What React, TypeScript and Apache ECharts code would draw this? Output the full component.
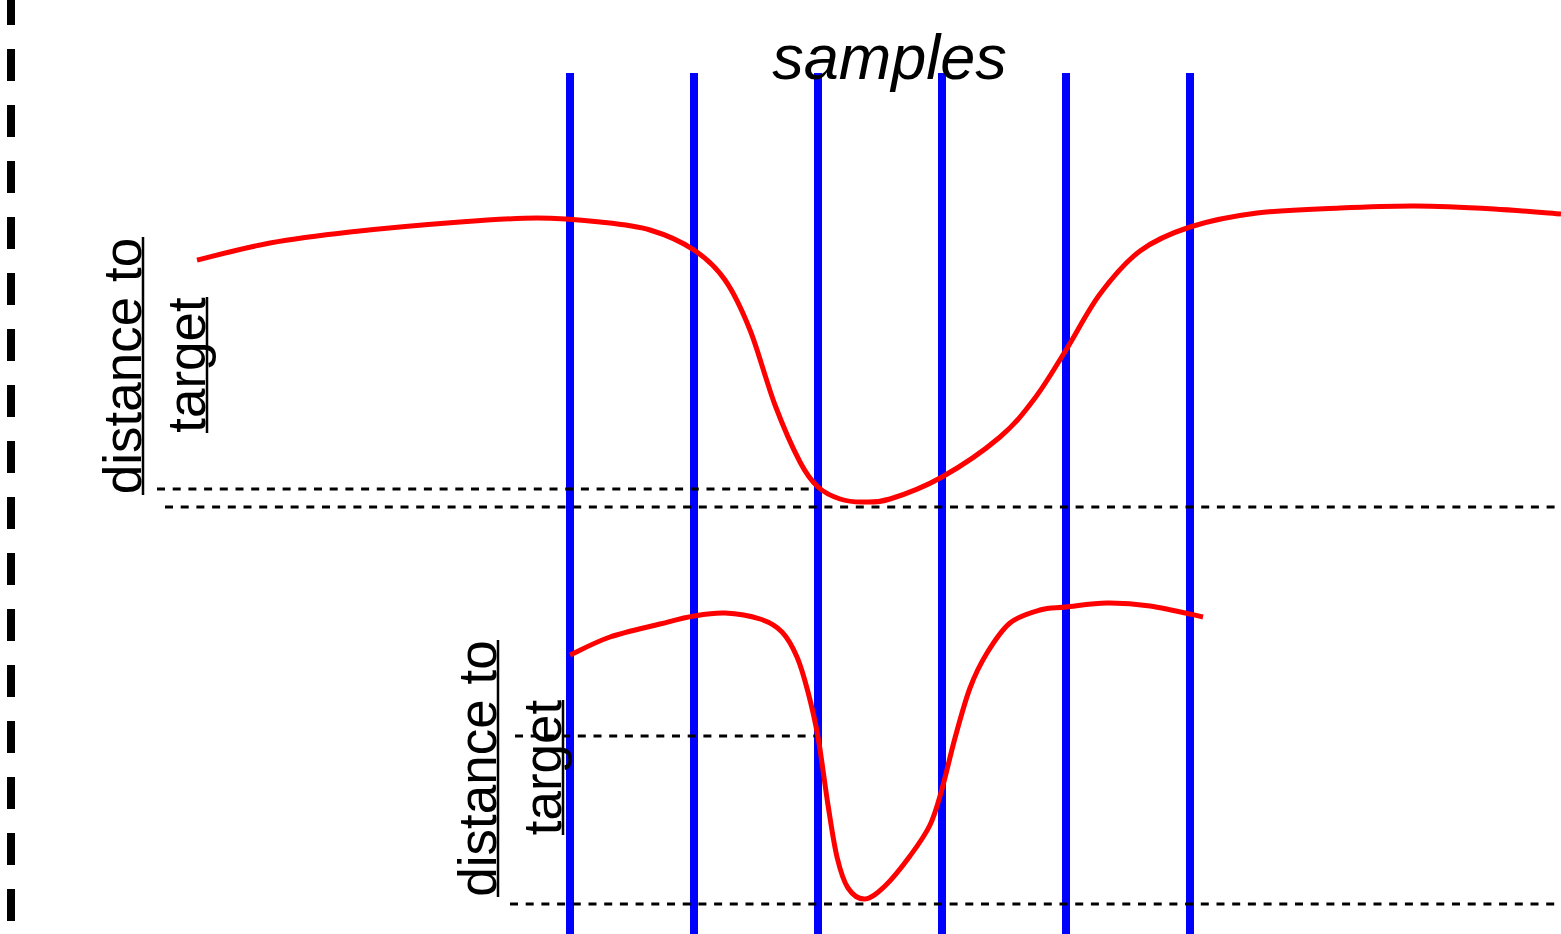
import React, { useEffect, useRef } from "react";
import * as echarts from "echarts";

// ---- data (diagram coordinates: x to the right, y downward) ----
const sampleX = [570, 694, 818, 942, 1066, 1190];
const sampleTop = 73;
const sampleBottom = 934;

const upperCurve: [number, number][] = [
  [197, 260], [270, 243], [350, 232], [460, 222], [537, 218], [600, 222], [650, 230],
  [694, 250], [725, 280], [750, 330], [775, 405], [800, 462], [818, 487], [840, 499],
  [862, 502], [890, 499], [942, 477], [1000, 437], [1035, 398], [1066, 350], [1100, 294],
  [1140, 251], [1190, 227], [1257, 213], [1340, 208], [1415, 206], [1494, 209], [1561, 214],
];

const lowerCurve: [number, number][] = [
  [570, 655], [610, 637], [660, 624], [694, 616], [725, 613], [760, 619], [782, 632],
  [797, 657], [808, 692], [818, 737], [828, 805], [837, 857], [848, 888], [865, 899],
  [885, 886], [910, 856], [930, 825], [942, 789], [955, 738], [970, 688], [987, 653],
  [1010, 623], [1040, 610], [1066, 607], [1107, 603], [1150, 606], [1203, 617],
];

const refY = [489, 507, 736, 904];
const refStart = [157, 165, 515, 510];
const refEnd = [818, 1555, 818, 1561];

const borderX = 11;

const labelLines = ["distance to", "target"];
const titleText = "samples";

const W = 1561;
const H = 934;
const FONT = "'Liberation Sans', Arial, Helvetica, sans-serif";

// Catmull-Rom spline through screen points -> SVG path data
function splinePath(pts: number[][]): string {
  if (pts.length < 2) return "";
  let d = `M${pts[0][0]},${pts[0][1]}`;
  for (let i = 0; i < pts.length - 1; i++) {
    const p0 = pts[i - 1] || pts[i];
    const p1 = pts[i];
    const p2 = pts[i + 1];
    const p3 = pts[i + 2] || p2;
    const c1x = p1[0] + (p2[0] - p0[0]) / 6;
    const c1y = p1[1] + (p2[1] - p0[1]) / 6;
    const c2x = p2[0] - (p3[0] - p1[0]) / 6;
    const c2y = p2[1] - (p3[1] - p1[1]) / 6;
    d += ` C${c1x},${c1y} ${c2x},${c2y} ${p2[0]},${p2[1]}`;
  }
  return d;
}

export default function App() {
  const ref = useRef<HTMLDivElement>(null);

  useEffect(() => {
    if (!ref.current) return;
    const chart = echarts.init(ref.current, undefined, { renderer: "svg" });

    const series: any[] = [];

    // left thick dashed border
    series.push({
      type: "line",
      data: [[borderX, 0], [borderX, H]],
      symbol: "none",
      silent: true,
      lineStyle: { color: "#000", width: 8, type: [32, 24], dashOffset: 7 },
      z: 1,
    });

    // blue sample lines
    sampleX.forEach((x) => {
      series.push({
        type: "line",
        data: [[x, sampleTop], [x, sampleBottom]],
        symbol: "none",
        silent: true,
        lineStyle: { color: "#0000ff", width: 8, cap: "butt" },
        z: 2,
      });
    });

    // black dashed reference lines
    refY.forEach((y, i) => {
      series.push({
        type: "line",
        data: [[refStart[i], y], [refEnd[i], y]],
        symbol: "none",
        silent: true,
        lineStyle: { color: "#000", width: 3, type: [8, 7.7] },
        z: 3,
      });
    });

    // red curves (smooth spline through the data, placed by the axes)
    [upperCurve, lowerCurve].forEach((c) => {
      series.push({
        type: "custom",
        coordinateSystem: "cartesian2d",
        data: c,
        silent: true,
        clip: false,
        z: 4,
        renderItem: (params: any, api: any) => {
          if (params.dataIndex !== 0) return null;
          const pts = c.map((p) => api.coord(p));
          return {
            type: "path",
            shape: { pathData: splinePath(pts) },
            style: {
              fill: "none",
              stroke: "#ff0000",
              lineWidth: 5,
              lineJoin: "round",
            },
          };
        },
      });
    });

    const textStyle = (text: string, extra: any = {}) => ({
      text,
      fontSize: 53,
      fontFamily: FONT,
      fill: "#000",
      align: "center",
      verticalAlign: "middle",
      textAlign: "center",
      textVerticalAlign: "middle",
      ...extra,
    });

    const labelBlocks = [
      { lines: [[122.5, 366], [186, 365]], ul: [[143, 237, 495], [207, 297, 433]] },
      { lines: [[477.5, 768.5], [542.5, 767.5]], ul: [[498, 640, 897], [563, 700, 835]] },
    ];

    const graphics: any[] = [];
    labelBlocks.forEach((b) => {
      b.lines.forEach((p, i) => {
        graphics.push({
          type: "text",
          x: p[0],
          y: p[1],
          rotation: Math.PI / 2,
          z: 100,
          silent: true,
          style: textStyle(labelLines[i]),
        });
      });
      b.ul.forEach((u) => {
        graphics.push({
          type: "line",
          z: 100,
          silent: true,
          shape: { x1: u[0], y1: u[1], x2: u[0], y2: u[2] },
          style: { stroke: "#000", lineWidth: 2.5 },
        });
      });
    });

    graphics.push({
      type: "text",
      x: 889.5,
      y: 57,
      z: 100,
      silent: true,
      style: textStyle(titleText, { fontSize: 63, fontStyle: "italic" }),
    });

    chart.setOption({
      animation: false,
      backgroundColor: "#fff",
      grid: { left: 0, right: 0, top: 0, bottom: 0, containLabel: false },
      xAxis: { type: "value", min: 0, max: W, show: false },
      yAxis: { type: "value", min: 0, max: H, inverse: true, show: false },
      series,
      graphic: graphics,
    });

    return () => chart.dispose();
  }, []);

  return (
    <div
      ref={ref}
      style={{ position: "fixed", left: 0, top: 0, width: W, height: H, background: "#fff" }}
    />
  );
}
